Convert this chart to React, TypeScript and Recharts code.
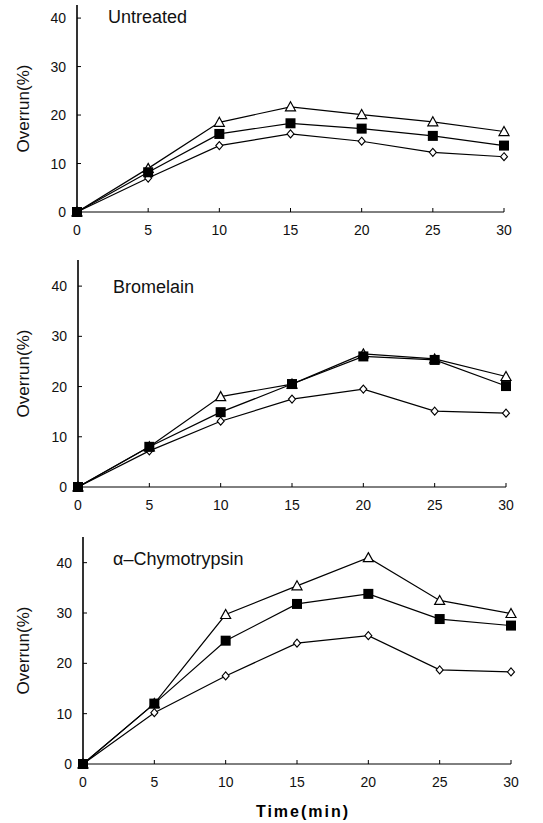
import React from 'react';
import { LineChart, Line, XAxis, YAxis, Label } from 'recharts';

// sampling times (min)
const time = [0, 5, 10, 15, 20, 25, 30];
const xTicks = [0, 5, 10, 15, 20, 25, 30];
const yTicks = [0, 10, 20, 30, 40];

// Untreated
const untreatedTriangle = [0, 9.0, 18.5, 21.7, 20.1, 18.6, 16.6];
const untreatedSquare = [0, 8.2, 16.1, 18.3, 17.2, 15.7, 13.7];
const untreatedDiamond = [0, 7.0, 13.7, 16.1, 14.6, 12.3, 11.4];

// Bromelain
const bromelainTriangle = [0, 8.0, 18.0, 20.5, 26.5, 25.5, 22.0];
const bromelainSquare = [0, 8.0, 14.9, 20.5, 26.0, 25.3, 20.1];
const bromelainDiamond = [0, 7.2, 13.1, 17.5, 19.5, 15.1, 14.7];

// alpha-Chymotrypsin
const chymoTriangle = [0, 12.0, 29.7, 35.4, 41.0, 32.5, 29.9];
const chymoSquare = [0, 12.0, 24.5, 31.8, 33.8, 28.8, 27.5];
const chymoDiamond = [0, 10.2, 17.5, 24.0, 25.5, 18.7, 18.3];

const FONT = '"Liberation Sans", Arial, sans-serif';

const buildRows = (tri: number[], sq: number[], dia: number[]) =>
  time.map((t, i) => ({ time: t, tri: tri[i], sq: sq[i], dia: dia[i] }));

const TriangleDot = (props: any) => {
  const { cx, cy } = props;
  if (cx == null || cy == null) return null;
  return (
    <path
      d={`M${cx},${cy - 5} L${cx + 5},${cy + 4} L${cx - 5},${cy + 4} Z`}
      fill="#fff"
      stroke="#000"
      strokeWidth={1.2}
    />
  );
};

const SquareDot = (props: any) => {
  const { cx, cy } = props;
  if (cx == null || cy == null) return null;
  return <rect x={cx - 5} y={cy - 5} width={10} height={10} fill="#000" />;
};

const DiamondDot = (props: any) => {
  const { cx, cy } = props;
  if (cx == null || cy == null) return null;
  return (
    <path
      d={`M${cx},${cy - 4} L${cx + 3.5},${cy} L${cx},${cy + 4} L${cx - 3.5},${cy} Z`}
      fill="#fff"
      stroke="#000"
      strokeWidth={1.1}
    />
  );
};

const XTick = (props: any) => {
  const { x, y, payload } = props;
  return (
    <g>
      <line x1={x} y1={y} x2={x} y2={y - 4} stroke="#000" strokeWidth={1} />
      <text x={x} y={y + 23} textAnchor="middle" fontSize={14} fontFamily={FONT} fill="#111">
        {payload.value}
      </text>
    </g>
  );
};

const YTick = (props: any) => {
  const { x, y, payload } = props;
  return (
    <g>
      <line x1={x} y1={y} x2={x + 4} y2={y} stroke="#000" strokeWidth={1} />
      <text x={x - 11} y={y + 5} textAnchor="end" fontSize={14} fontFamily={FONT} fill="#111">
        {payload.value}
      </text>
    </g>
  );
};

interface PanelProps {
  top: number;
  height: number;
  margin: { top: number; right: number; bottom: number; left: number };
  yWidth: number;
  yMax: number;
  xHeight: number;
  tri: number[];
  sq: number[];
  dia: number[];
  title: string;
  titleLeft: number;
  titleTop: number;
  showTimeLabel?: boolean;
}

function Panel({
  top, height, margin, yWidth, yMax, xHeight, tri, sq, dia,
  title, titleLeft, titleTop, showTimeLabel,
}: PanelProps) {
  const data = buildRows(tri, sq, dia);
  return (
    <div style={{ position: 'absolute', left: 0, top, width: 543, height }}>
      <LineChart width={543} height={height} data={data} margin={margin}>
        <XAxis
          dataKey="time"
          type="number"
          domain={[0, 30]}
          ticks={xTicks}
          tickSize={0}
          tickMargin={0}
          tickLine={false}
          tick={<XTick />}
          height={xHeight}
          axisLine={{ stroke: '#000', strokeWidth: 1 }}
        >
          {showTimeLabel && (
            <Label
              content={(p: any) => {
                const vb = p.viewBox;
                return (
                  <text
                    x={vb.x + vb.width / 2 + 6}
                    y={vb.y + 53}
                    textAnchor="middle"
                    fontSize={16}
                    fontWeight="bold"
                    letterSpacing={2}
                    fontFamily={FONT}
                    fill="#000"
                  >
                    Time(min)
                  </text>
                );
              }}
            />
          )}
        </XAxis>
        <YAxis
          type="number"
          domain={[0, yMax]}
          ticks={yTicks}
          width={yWidth}
          tickSize={0}
          tickMargin={0}
          tickLine={false}
          tick={<YTick />}
          axisLine={{ stroke: '#000', strokeWidth: 1.6 }}
        >
          <Label
            content={(p: any) => {
              const vb = p.viewBox;
              const cy = vb.y + vb.height / 2;
              return (
                <text
                  x={23}
                  y={cy}
                  transform={`rotate(-90, 23, ${cy})`}
                  textAnchor="middle"
                  dominantBaseline="central"
                  fontSize={17}
                  fontFamily={FONT}
                  fill="#111"
                >
                  Overrun(%)
                </text>
              );
            }}
          />
        </YAxis>
        <Line type="linear" dataKey="dia" stroke="#000" strokeWidth={1.2} dot={<DiamondDot />} activeDot={false} isAnimationActive={false} />
        <Line type="linear" dataKey="tri" stroke="#000" strokeWidth={1.2} dot={<TriangleDot />} activeDot={false} isAnimationActive={false} />
        <Line type="linear" dataKey="sq" stroke="#000" strokeWidth={1.2} dot={<SquareDot />} activeDot={false} isAnimationActive={false} />
      </LineChart>
      <div
        style={{
          position: 'absolute',
          left: titleLeft,
          top: titleTop,
          fontFamily: FONT,
          fontSize: 18,
          lineHeight: '18px',
          color: '#111',
          whiteSpace: 'nowrap',
        }}
      >
        {title}
      </div>
    </div>
  );
}

export default function App() {
  return (
    <div style={{ position: 'absolute', left: 0, top: 0, width: 543, height: 823, background: '#fff' }}>
      <Panel
        top={0}
        height={245}
        margin={{ top: 5, right: 39, bottom: 3, left: 0 }}
        yWidth={77}
        yMax={42.7}
        xHeight={30}
        tri={untreatedTriangle}
        sq={untreatedSquare}
        dia={untreatedDiamond}
        title="Untreated"
        titleLeft={108}
        titleTop={8}
      />
      <Panel
        top={240}
        height={280}
        margin={{ top: 20, right: 37, bottom: 3, left: 0 }}
        yWidth={78}
        yMax={45.2}
        xHeight={30}
        tri={bromelainTriangle}
        sq={bromelainSquare}
        dia={bromelainDiamond}
        title="Bromelain"
        titleLeft={113}
        titleTop={38}
      />
      <Panel
        top={520}
        height={303}
        margin={{ top: 17, right: 32, bottom: 4, left: 0 }}
        yWidth={83}
        yMax={45.1}
        xHeight={55}
        tri={chymoTriangle}
        sq={chymoSquare}
        dia={chymoDiamond}
        title="α–Chymotrypsin"
        titleLeft={113}
        titleTop={30}
        showTimeLabel
      />
    </div>
  );
}
